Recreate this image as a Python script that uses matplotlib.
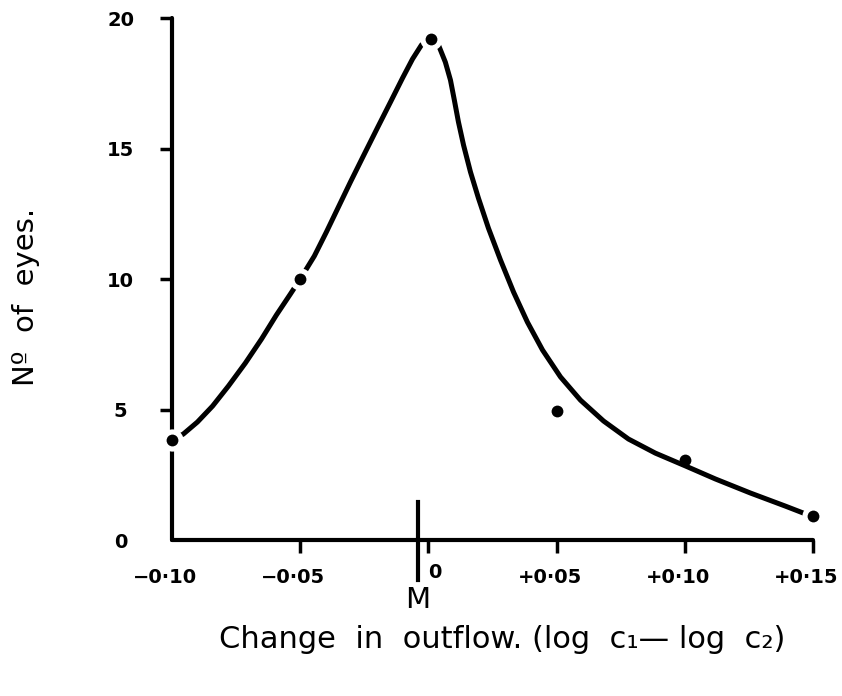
# Number of eyes against change in outflow, with a freehand-style curve
import matplotlib
matplotlib.use("Agg")
import matplotlib.pyplot as plt
from matplotlib.transforms import ScaledTranslation

plt.rcParams['font.family'] = ['DejaVu Sans']

# measured points
change = [-0.10, -0.05, 0.001, 0.05, 0.10, 0.15]
eyes = [3.85, 10.0, 19.2, 4.95, 3.05, 0.93]
on_curve = [0, 1, 2, 5]          # points the curve runs through (gap drawn round them)

# smooth curve drawn through the data by eye
curve_x = [-0.100, -0.0956, -0.0901, -0.0842, -0.0780, -0.0714, -0.0651, -0.0593,
           -0.0538, -0.050, -0.0445, -0.0398, -0.0351, -0.0304, -0.0254, -0.0199,
           -0.0148, -0.0101, -0.0062, -0.0027, 0.001,
           0.0039, 0.0066, 0.0086, 0.0101, 0.0117, 0.0137, 0.0164, 0.0195, 0.0234,
           0.0281, 0.0332, 0.0386, 0.0445, 0.0515, 0.0593, 0.0683, 0.0780, 0.0885,
           0.1002, 0.1119, 0.1256, 0.1392, 0.1463, 0.150]
curve_y = [3.83, 4.06, 4.52, 5.13, 5.90, 6.78, 7.70, 8.62,
           9.43, 10.0, 10.88, 11.80, 12.76, 13.72, 14.71, 15.79,
           16.78, 17.70, 18.43, 18.97, 19.23,
           18.97, 18.31, 17.62, 16.86, 16.02, 15.13, 14.10, 13.10, 11.95,
           10.73, 9.50, 8.35, 7.28, 6.25, 5.36, 4.56, 3.87, 3.33,
           2.84, 2.34, 1.80, 1.30, 1.03, 0.93]

x_ticks = [-0.10, -0.05, 0, 0.05, 0.10, 0.15]
x_labels = ['\u22120\u00b710', '\u22120\u00b705', '0', '+0\u00b705', '+0\u00b710', '+0\u00b715']
y_ticks = [0, 5, 10, 15, 20]
y_labels = ['0', '5', '10', '15', '20']

m_pos = -0.004                   # position of the mean, M

fig = plt.figure(figsize=(8.42, 6.96), dpi=100)
ax = fig.add_axes([0.2043, 0.2241, 0.7613, 0.7500])

ax.plot(curve_x, curve_y, color='black', lw=3.6, solid_capstyle='round',
        solid_joinstyle='round', zorder=3, clip_on=False)

# white halo so the curve and axis stop short of the dots
ax.plot([change[i] for i in on_curve], [eyes[i] for i in on_curve], 'o',
        color='white', ms=16, mew=0, zorder=4, clip_on=False)
ax.plot(change, eyes, 'o', color='black', ms=8.5, mew=0, zorder=5, clip_on=False)

# M marker crossing the x axis
ax.plot([m_pos, m_pos], [1.46, -1.53], color='black', lw=3, zorder=3, clip_on=False)
ax.text(m_pos, -2.3, 'M', ha='center', va='center', fontsize=21)

ax.set_xlim(-0.10, 0.15)
ax.set_ylim(0, 20)
for side in ['top', 'right']:
    ax.spines[side].set_visible(False)
for side in ['left', 'bottom']:
    ax.spines[side].set_linewidth(3)
    ax.spines[side].set_capstyle('round')

ax.set_xticks(x_ticks)
ax.set_xticklabels(x_labels, fontsize=14, fontweight='bold')
ax.set_yticks(y_ticks)
ax.set_yticklabels(y_labels, fontsize=14, fontweight='bold')
ax.tick_params(axis='x', length=9, width=2.5, pad=11)
ax.tick_params(axis='y', length=9, width=2.5, pad=28)
for lab in ax.get_yticklabels():
    lab.set_ha('center')

# x labels sit a little left of their ticks; the zero goes right of the M line
shift = ScaledTranslation(-7 / 100, 0, fig.dpi_scale_trans)
for i, lab in enumerate(ax.get_xticklabels()):
    if i == 2:
        lab.set_ha('left')
        lab.set_transform(lab.get_transform() + ScaledTranslation(0, 5 / 100, fig.dpi_scale_trans))
    else:
        lab.set_transform(lab.get_transform() + shift)

# corner ticks would stick out past the other axis
ax.xaxis.get_major_ticks()[0].tick1line.set_visible(False)
ax.yaxis.get_major_ticks()[0].tick1line.set_visible(False)

ax.set_ylabel('N\u00ba  of  eyes.', fontsize=21)
ax.yaxis.set_label_coords(-0.206, 0.466)
ax.set_xlabel('Change  in  outflow. (log  c\u2081\u2014 log  c\u2082)', fontsize=22)
ax.xaxis.set_label_coords(0.515, -0.163)

fig.savefig('out.png', dpi=100)
